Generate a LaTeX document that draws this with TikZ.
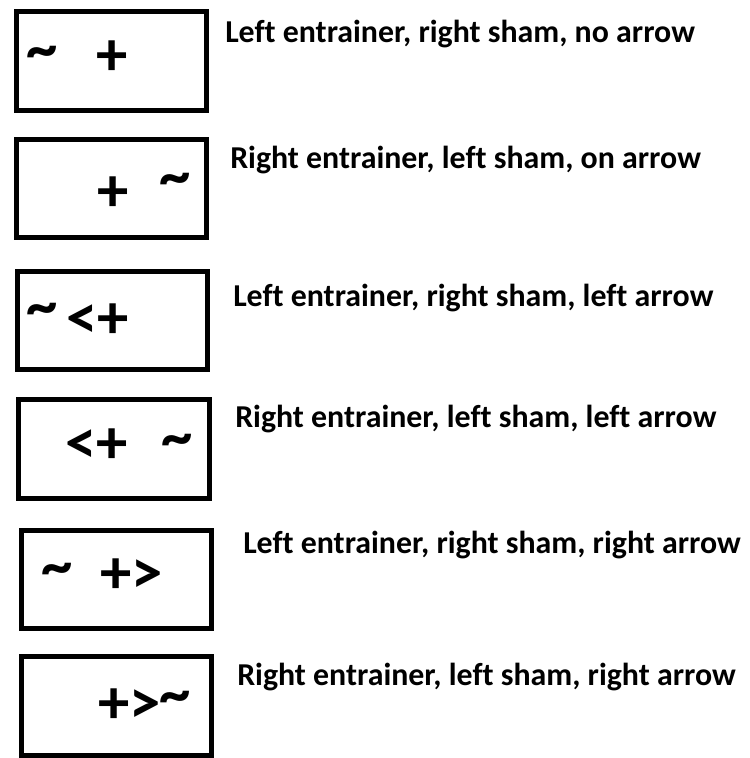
\documentclass[tikz,border=0pt]{standalone}
\usepackage{fontspec}
\setmainfont{Carlito}[Ligatures=CommonOff]
\usetikzlibrary{positioning}

\begin{document}
\begin{tikzpicture}[
    x=0.75pt, y=-0.75pt,
    frame/.style={draw, line width=3.7pt, minimum width=143pt, minimum height=74pt, inner sep=0pt},
    sym/.style={inner sep=0pt, font=\bfseries\fontsize{47}{47}\selectfont},
    lbl/.style={anchor=base west, inner sep=0pt, font=\bfseries\fontsize{23.9}{26}\selectfont}
  ]
    \useasboundingbox (0,0) rectangle (750,758);

    \node[frame] (box1) at (111.5,61) {};
    \node[frame] (box2) at (111.5,188.5) {};
    \node[frame] (box3) at (112.5,320.5) {};
    \node[frame] (box4) at (114,449) {};
    \node[frame] (box5) at (116.5,579.5) {};
    \node[frame] (box6) at (116.5,706) {};

    % entrainer / sham / arrow marks
    \node[sym] (ent1) at (42,58) {\textasciitilde};
    \node[sym] (sham1) at (112,58) {+};
    \node[sym] (sham2) at (113,194) {+};
    \node[sym] (ent2) at (175,185) {\textasciitilde};
    \node[sym] (ent3) at (42,315) {\textasciitilde};
    \node[sym, anchor=west] (sham3) at (66,321) {<+};
    \node[sym, anchor=west] (sham4) at (65,446) {<+};
    \node[sym] (ent4) at (177,446) {\textasciitilde};
    \node[sym] (ent5) at (57,575) {\textasciitilde};
    \node[sym, anchor=west] (sham5) at (100,576) {+>};
    \node[sym, anchor=west] (sham6) at (98,706) {+>};
    \node[sym] (ent6) at (175,703) {\textasciitilde};

    \node[lbl] (cap1) at (225,42) {Left entrainer, right sham, no arrow};
    \node[lbl] (cap2) at (230,168) {Right entrainer, left sham, on arrow};
    \node[lbl] (cap3) at (233,306) {Left entrainer, right sham, left arrow};
    \node[lbl] (cap4) at (235,427) {Right entrainer, left sham, left arrow};
    \node[lbl] (cap5) at (243,553) {Left entrainer, right sham, right arrow};
    \node[lbl] (cap6) at (237,685) {Right entrainer, left sham, right arrow};
  \end{tikzpicture}
\end{document}
